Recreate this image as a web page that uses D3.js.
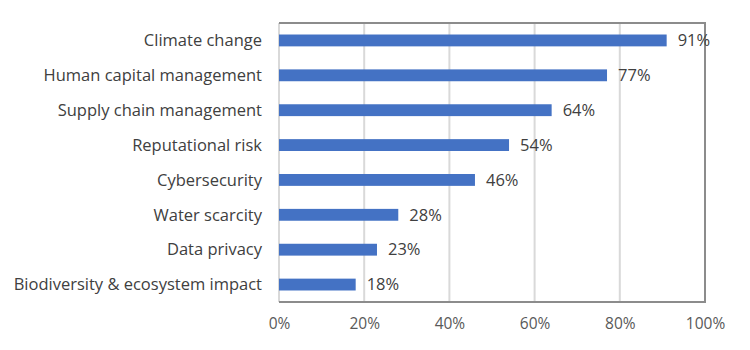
<!DOCTYPE html>
<html><head><meta charset="utf-8">
<script src="https://cdn.jsdelivr.net/npm/d3@7"></script>
<style>body{margin:0;background:#fff}svg{display:block}</style>
</head><body>
<svg id="c" width="750" height="350"></svg>
<script>
const categories = ["Climate change","Human capital management","Supply chain management","Reputational risk","Cybersecurity","Water scarcity","Data privacy","Biodiversity & ecosystem impact"];
const values = [91,77,64,54,46,28,23,18];
const tickValues = [0,20,40,60,80,100];

const svg = d3.select("#c");
const m = {left:279, right:705, top:23, bottom:302};
const x = d3.scaleLinear().domain([0,100]).range([m.left, m.right]);
const y = d3.scaleBand().domain(categories).range([m.top, m.bottom]).paddingInner(0.66).paddingOuter(0.33);
const font = "'Open Sans', sans-serif";

svg.append("g").selectAll("line").data(tickValues).join("line")
  .attr("x1", d=>x(d)).attr("x2", d=>x(d)).attr("y1", m.top).attr("y2", m.bottom)
  .attr("stroke", "#d9d9d9").attr("stroke-width", 2);

svg.append("path")
  .attr("d", `M${m.left},${m.top}H${m.right}V${m.bottom}H${m.left}`)
  .attr("fill","none").attr("stroke","#8c8c8c").attr("stroke-width",2);

svg.append("g").selectAll("rect").data(values).join("rect")
  .attr("x", x(0)).attr("y", (d,i)=>y(categories[i]))
  .attr("width", d=>x(d)-x(0)).attr("height", y.bandwidth())
  .attr("fill", "#4472c4");

svg.append("g").selectAll("text").data(values).join("text")
  .attr("x", d=>x(d)+11).attr("y", (d,i)=>y(categories[i])+y.bandwidth()/2)
  .attr("dy","0.35em").attr("font-family",font).attr("font-size",16.5).attr("fill","#404040")
  .text(d=>d+"%");

svg.append("g").selectAll("text").data(categories).join("text")
  .attr("x", 262).attr("y", d=>y(d)+y.bandwidth()/2)
  .attr("dy","0.35em").attr("text-anchor","end")
  .attr("font-family",font).attr("font-size",16.5).attr("fill","#404040")
  .text(d=>d);

const xa = svg.append("g").attr("transform",`translate(0,${m.bottom})`)
  .call(d3.axisBottom(x).tickValues(tickValues).tickFormat(d=>d+"%").tickSize(0).tickPadding(16));
xa.select(".domain").remove();
xa.selectAll("text").attr("font-family",font).attr("font-size",15.5).attr("fill","#595959");
</script>
</body></html>
